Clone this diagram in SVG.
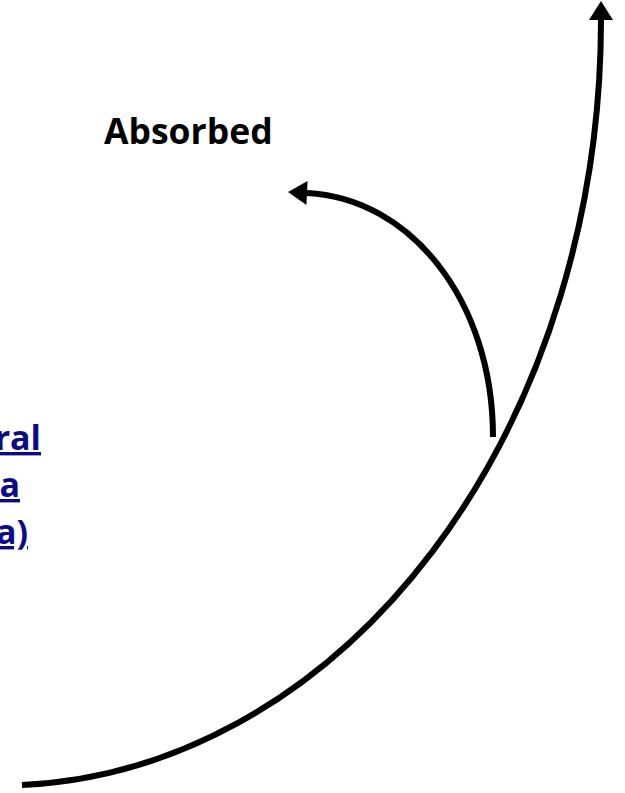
<svg xmlns="http://www.w3.org/2000/svg" width="625" height="793" viewBox="0 0 625 793">
  <style>
    .curve { fill: none; stroke: #000; stroke-width: 6; stroke-linecap: butt; }
    .label { font-family: "Open Sans", "Liberation Sans", sans-serif; font-weight: bold; font-size: 35.5px; fill: #000; }
    .link { font-family: "Open Sans", "Liberation Sans", sans-serif; font-weight: bold; font-size: 34px; fill: #0C0C88; text-decoration: underline; text-anchor: end; }
  </style>
  <defs>
    <marker id="head" markerUnits="userSpaceOnUse" markerWidth="21" markerHeight="26" viewBox="0 -13 20 26" refX="0" refY="0" orient="auto">
      <path d="M0,-12 L19,0 L0,12 Z" fill="#000"/>
    </marker>
  </defs>

  <g id="connectors">
    <!-- main sweep: quarter ellipse rising to the top edge -->
    <path id="main-path" class="curve" d="M22,785 A601,766 0 0 0 601,20" marker-end="url(#head)"/>
    <!-- branch bending back to the left -->
    <path id="absorbed-path" class="curve" d="M493,437 C493,300 410,198 307,193" marker-end="url(#head)"/>
  </g>

  <g id="absorbed-label">
    <text class="label" x="104" y="144">Absorbed</text>
  </g>

  <g id="side-link">
    <text class="link" x="41" y="450">ral</text>
    <text class="link" x="20" y="497">a</text>
    <text class="link" x="28" y="544">a)</text>
  </g>
</svg>
